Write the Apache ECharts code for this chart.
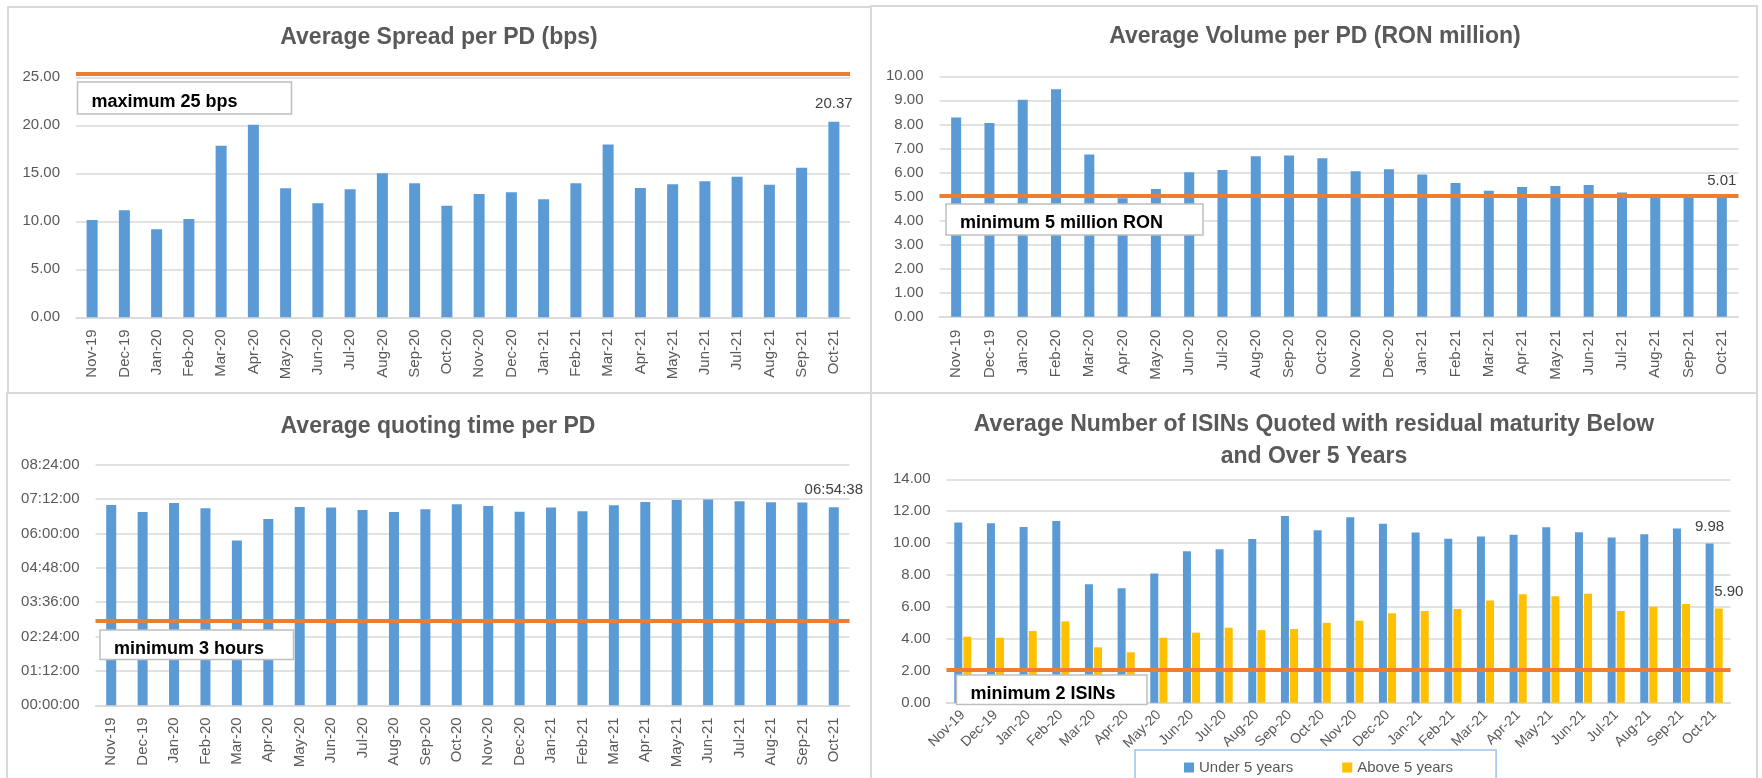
<!DOCTYPE html>
<html>
<head>
<meta charset="utf-8">
<script src="https://cdn.jsdelivr.net/npm/echarts@6/dist/echarts.min.js"></script>
<style>
  html, body { margin: 0; padding: 0; background: #fff; }
  #chart { width: 1762px; height: 778px; }
</style>
</head>
<body>
<div id="chart"></div>
<script>
// data
const months = ['Nov-19', 'Dec-19', 'Jan-20', 'Feb-20', 'Mar-20', 'Apr-20', 'May-20', 'Jun-20',
  'Jul-20', 'Aug-20', 'Sep-20', 'Oct-20', 'Nov-20', 'Dec-20', 'Jan-21', 'Feb-21', 'Mar-21',
  'Apr-21', 'May-21', 'Jun-21', 'Jul-21', 'Aug-21', 'Sep-21', 'Oct-21'];

const spread = [10.14, 11.15, 9.17, 10.24, 17.88, 20.07, 13.44, 11.88, 13.33, 15.00, 13.96, 11.63,
  12.85, 13.02, 12.29, 13.96, 17.99, 13.47, 13.85, 14.17, 14.65, 13.82, 15.59, 20.37];

const volume = [8.29, 8.06, 9.02, 9.46, 6.75, 4.93, 5.31, 6.01, 6.10, 6.67, 6.71, 6.59,
  6.05, 6.13, 5.92, 5.56, 5.24, 5.40, 5.44, 5.48, 5.17, 5.05, 5.03, 5.01];

const quoting = ['06:59:42', '06:45:04', '07:03:54', '06:52:42', '05:45:10', '06:30:24', '06:55:30', '06:54:06',
  '06:49:12', '06:44:50', '06:50:36', '07:01:06', '06:57:36', '06:45:12', '06:54:06', '06:46:24',
  '06:59:00', '07:06:00', '07:10:12', '07:10:54', '07:07:24', '07:05:18', '07:04:36', '06:54:38'];

const isinUnder = [11.30, 11.24, 11.01, 11.39, 7.42, 7.17, 8.09, 9.49, 9.61, 10.26, 11.70, 10.80,
  11.62, 11.22, 10.66, 10.28, 10.41, 10.53, 10.99, 10.68, 10.36, 10.55, 10.91, 9.98];

const isinAbove = [4.14, 4.07, 4.49, 5.10, 3.47, 3.16, 4.07, 4.39, 4.70, 4.55, 4.62, 5.01,
  5.14, 5.60, 5.75, 5.87, 6.41, 6.79, 6.67, 6.83, 5.75, 6.02, 6.18, 5.90];

// threshold lines (as drawn)
const spreadMax = 25.4;
const volumeMin = 5.02;
const quotingMin = '02:57:30';
const isinMin = 2.05;

const FONT = "'Liberation Sans', Arial, sans-serif";
const BLUE = '#5b9bd5';
const YELLOW = '#ffc000';
const ORANGE = '#ed7d31';
const GRID = '#d9d9d9';
const TXT = '#595959';

function toSec(s) {
  const p = s.split(':').map(Number);
  return p[0] * 3600 + p[1] * 60 + p[2];
}
function fmtTime(v) {
  const h = Math.floor(v / 3600), m = Math.floor((v % 3600) / 60), s = Math.round(v % 60);
  return [h, m, s].map(x => String(x).padStart(2, '0')).join(':');
}

// put a value label on the last bar only
function lastLabel(values, extra) {
  return values.map((v, i) => i === values.length - 1
    ? { value: v, label: Object.assign({ show: true, position: 'top', color: '#404040', fontSize: 15, fontFamily: FONT }, extra) }
    : v);
}

function threshold(value) {
  return {
    silent: true,
    symbol: 'none',
    label: { show: false },
    lineStyle: { color: ORANGE, width: 4, type: 'solid' },
    data: [{ yAxis: value }]
  };
}

function xAxis(gridIndex, rotate, margin, size) {
  return {
    type: 'category',
    gridIndex: gridIndex,
    data: months,
    axisTick: { show: false },
    axisLine: { lineStyle: { color: GRID, width: 1.5 } },
    axisLabel: { interval: 0, rotate: rotate, margin: margin, color: TXT, fontSize: size, fontFamily: FONT }
  };
}

function yAxis(gridIndex, max, interval, formatter) {
  return {
    type: 'value',
    gridIndex: gridIndex,
    min: 0,
    max: max,
    interval: interval,
    axisLine: { show: false },
    axisTick: { show: false },
    splitLine: { lineStyle: { color: GRID, width: 1.5 } },
    axisLabel: { margin: 16, color: TXT, fontSize: 15, fontFamily: FONT, formatter: formatter }
  };
}

function panel(x, y, w, h) {
  return { type: 'rect', shape: { x: x, y: y, width: w, height: h }, style: { fill: 'none', stroke: GRID, lineWidth: 2 }, z: 0, silent: true };
}

function heading(text, x, y) {
  return {
    type: 'text', x: x, y: y, z: 100, silent: true,
    style: { text: text, fill: TXT, font: 'bold 23px ' + FONT, align: 'center', verticalAlign: 'middle', lineHeight: 32 }
  };
}

function noteBox(text, x, y, w, h) {
  return {
    type: 'group', z: 100, silent: true,
    children: [
      { type: 'rect', z: 100, shape: { x: x, y: y, width: w, height: h }, style: { fill: '#fff', stroke: '#bfbfbf', lineWidth: 1.5 } },
      { type: 'text', z: 101, x: x + 14, y: y + h / 2 + 4, style: { text: text, fill: '#000', font: 'bold 18px ' + FONT, verticalAlign: 'middle' } }
    ]
  };
}

const chart = echarts.init(document.getElementById('chart'));

const spreadAxis = yAxis(0, spreadMax, 5, v => v.toFixed(2));
spreadAxis.axisLabel.showMaxLabel = false;

chart.setOption({
  animation: false,
  textStyle: { fontFamily: FONT },
  grid: [
    { left: 76, top: 73.5, width: 774, height: 243.8 },
    { left: 939.5, top: 76.3, width: 799, height: 240.4 },
    { left: 95.5, top: 464.7, width: 754, height: 240.6 },
    { left: 946.5, top: 479.3, width: 784, height: 223.4 }
  ],
  xAxis: [
    xAxis(0, 90, 12, 15),
    xAxis(1, 90, 13, 15),
    xAxis(2, 90, 12, 15),
    xAxis(3, 45, 10, 14)
  ],
  yAxis: [
    spreadAxis,
    yAxis(1, 10, 1, v => v.toFixed(2)),
    yAxis(2, 30240, 4320, fmtTime),
    yAxis(3, 14, 2, v => v.toFixed(2))
  ],
  legend: {
    data: ['Under 5 years', 'Above 5 years'],
    left: 1135,
    top: 750,
    padding: [10, 43, 20, 49],
    borderColor: '#9dc3e6',
    borderWidth: 1.5,
    icon: 'rect',
    itemWidth: 10,
    itemHeight: 10,
    itemGap: 49,
    textStyle: { color: TXT, fontSize: 15, fontFamily: FONT }
  },
  series: [
    {
      name: 'Average Spread', type: 'bar', xAxisIndex: 0, yAxisIndex: 0,
      barWidth: 11, itemStyle: { color: BLUE },
      data: lastLabel(spread, { distance: 10, formatter: p => p.value.toFixed(2) }),
      markLine: threshold(spreadMax)
    },
    {
      name: 'Average Volume', type: 'bar', xAxisIndex: 1, yAxisIndex: 1,
      barWidth: 10, itemStyle: { color: BLUE },
      data: lastLabel(volume, { distance: 8, formatter: p => p.value.toFixed(2) }),
      markLine: threshold(volumeMin)
    },
    {
      name: 'Average quoting time', type: 'bar', xAxisIndex: 2, yAxisIndex: 2,
      barWidth: 10, itemStyle: { color: BLUE },
      data: lastLabel(quoting.map(toSec), { distance: 10, formatter: p => fmtTime(p.value) }),
      markLine: threshold(toSec(quotingMin))
    },
    {
      name: 'Under 5 years', type: 'bar', xAxisIndex: 3, yAxisIndex: 3,
      barWidth: 8, barGap: '14%', itemStyle: { color: BLUE },
      data: lastLabel(isinUnder, { distance: 9, formatter: p => p.value.toFixed(2) }),
      markLine: threshold(isinMin)
    },
    {
      name: 'Above 5 years', type: 'bar', xAxisIndex: 3, yAxisIndex: 3,
      barWidth: 8, barGap: '14%', itemStyle: { color: YELLOW },
      data: lastLabel(isinAbove, { distance: 9, offset: [10, 0], formatter: p => p.value.toFixed(2) })
    }
  ],
  graphic: [
    panel(8, 7, 863, 386),
    panel(871, 6, 886, 387),
    panel(7, 393, 864, 390),
    panel(871, 393, 886, 390),
    heading('Average Spread per PD (bps)', 439, 38),
    heading('Average Volume per PD (RON million)', 1315, 37),
    heading('Average quoting time per PD', 438, 427),
    heading('Average Number of ISINs Quoted with residual maturity Below\nand Over 5 Years', 1314, 441),
    noteBox('maximum 25 bps', 77.5, 82, 214, 32),
    noteBox('minimum 5 million RON', 946, 204, 257, 31),
    noteBox('minimum 3 hours', 100, 630, 193.5, 29.5),
    noteBox('minimum 2 ISINs', 956.5, 675, 190.5, 29.5)
  ]
});
</script>
</body>
</html>
